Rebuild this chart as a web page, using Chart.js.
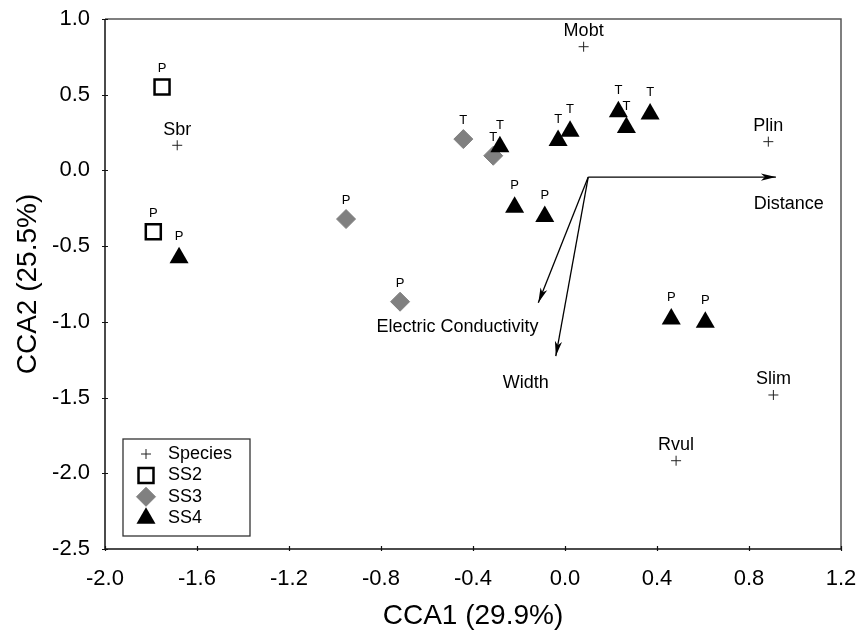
<!DOCTYPE html>
<html>
<head>
<meta charset="utf-8">
<script src="https://cdn.jsdelivr.net/npm/chart.js@4.4.1/dist/chart.umd.min.js"></script>
<style>
  html, body { margin: 0; padding: 0; background: #fff; }
</style>
</head>
<body>
<canvas id="c" width="861" height="632"></canvas>
<script>
// ---- Ordination scores (CCA axis 1 / axis 2) ----
const speciesNames = ['Mobt', 'Plin', 'Sbr', 'Slim', 'Rvul'];
const speciesX = [0.081, 0.884, -1.686, 0.906, 0.483];
const speciesY = [0.817, 0.190, 0.166, -1.483, -1.917];

const ss2X = [-1.752, -1.790];
const ss2Y = [0.551, -0.405];
const ss2Tags = ['P', 'P'];

const ss3X = [-0.442, -0.312, -0.952, -0.717];
const ss3Y = [0.207, 0.097, -0.321, -0.867];
const ss3Tags = ['T', 'T', 'P', 'P'];

const ss4X = [-1.678, -0.283, -0.030, 0.022, 0.232, 0.267, 0.370, -0.219, -0.088, 0.462, 0.610];
const ss4Y = [-0.577, 0.156, 0.197, 0.259, 0.388, 0.283, 0.373, -0.243, -0.305, -0.981, -1.003];
const ss4Tags = ['P', 'T', 'T', 'T', 'T', 'T', 'T', 'P', 'P', 'P', 'P'];

// Environmental vectors (biplot arrows)
const envNames = ['Distance', 'Electric Conductivity', 'Width'];
const envOriginX = 0.101;
const envOriginY = -0.044;
const envX = [0.917, -0.116, -0.040];
const envY = [-0.044, -0.874, -1.226];

// Axis tick values
const xTicks = [-2.0, -1.6, -1.2, -0.8, -0.4, 0.0, 0.4, 0.8, 1.2];
const yTicks = [1.0, 0.5, 0.0, -0.5, -1.0, -1.5, -2.0, -2.5];

// Where each vector's caption is centred (axis units)
const envLabelAt = [
  { x: 0.973, y: -0.222 },
  { x: -0.467, y: -1.034 },
  { x: -0.171, y: -1.407 }
];

const FONT = '"Liberation Sans", Arial, Helvetica, sans-serif';
Chart.defaults.font.family = FONT;
Chart.defaults.color = '#000';

const pts = (xs, ys) => xs.map((x, i) => ({ x: x, y: ys[i] }));

const datasets = [
  {
    label: 'SS4', order: 0, data: pts(ss4X, ss4Y), tags: ss4Tags, tagGap: 18,
    pointStyle: 'triangle', pointRadius: 11, pointBackgroundColor: '#000',
    pointBorderColor: '#000', pointBorderWidth: 0, showLine: false
  },
  {
    label: 'SS3', order: 1, data: pts(ss3X, ss3Y), tags: ss3Tags, tagGap: 14.7,
    pointStyle: 'rectRot', pointRadius: 9.5, pointBackgroundColor: '#808080',
    pointBorderColor: '#808080', pointBorderWidth: 1, showLine: false
  },
  {
    label: 'SS2', order: 2, data: pts(ss2X, ss2Y), tags: ss2Tags, tagGap: 14.6,
    pointStyle: 'rect', pointRadius: 10.6, pointBackgroundColor: '#fff',
    pointBorderColor: '#000', pointBorderWidth: 2.5, showLine: false
  },
  {
    label: 'Species', order: 3, data: pts(speciesX, speciesY), tags: speciesNames,
    tagGap: 10.5, tagSize: 18,
    pointStyle: 'cross', pointRadius: 5, pointBackgroundColor: '#222',
    pointBorderColor: '#222', pointBorderWidth: 1, showLine: false
  }
];

envNames.forEach((name, i) => {
  datasets.push({
    label: name, order: 4, arrow: true, envIndex: i,
    data: [{ x: envOriginX, y: envOriginY }, { x: envX[i], y: envY[i] }],
    showLine: true, borderColor: '#000', borderWidth: 1.3, pointRadius: 0,
    fill: false
  });
});

// Text tags above markers and arrow heads, drawn right after their own dataset
const markPlugin = {
  id: 'marks',
  afterDatasetDraw(chart, args) {
    const ds = chart.data.datasets[args.index];
    const meta = args.meta;
    const ctx = chart.ctx;
    ctx.save();
    if (ds.tags) {
      ctx.fillStyle = '#000';
      ctx.font = (ds.tagSize || 13) + 'px ' + FONT;
      ctx.textAlign = 'center';
      ctx.textBaseline = 'alphabetic';
      meta.data.forEach((el, i) => {
        ctx.fillText(ds.tags[i], el.x, el.y - ds.tagGap);
      });
    }
    if (ds.arrow) {
      const a = meta.data[0], b = meta.data[1];
      const dx = b.x - a.x, dy = b.y - a.y;
      const len = Math.hypot(dx, dy);
      const ux = dx / len, uy = dy / len;
      const nx = -uy, ny = ux;
      const L = 15, W = 3.6, notch = 4;
      ctx.fillStyle = '#000';
      ctx.beginPath();
      ctx.moveTo(b.x, b.y);
      ctx.lineTo(b.x - ux * L + nx * W, b.y - uy * L + ny * W);
      ctx.lineTo(b.x - ux * (L - notch), b.y - uy * (L - notch));
      ctx.lineTo(b.x - ux * L - nx * W, b.y - uy * L - ny * W);
      ctx.closePath();
      ctx.fill();
      const pos = envLabelAt[ds.envIndex];
      const sx = chart.scales.x, sy = chart.scales.y;
      ctx.font = '18px ' + FONT;
      ctx.textAlign = 'center';
      ctx.textBaseline = 'middle';
      ctx.fillText(ds.label, sx.getPixelForValue(pos.x), sy.getPixelForValue(pos.y));
    }
    ctx.restore();
  }
};

// Plot frame with short tick marks
const framePlugin = {
  id: 'frame',
  beforeDatasetsDraw(chart) {
    const { ctx, chartArea: ca, scales } = chart;
    ctx.save();
    ctx.lineWidth = 1.5;
    ctx.strokeStyle = '#555';
    ctx.beginPath();
    ctx.moveTo(ca.left, ca.top);
    ctx.lineTo(ca.right, ca.top);
    ctx.lineTo(ca.right, ca.bottom);
    ctx.stroke();
    ctx.strokeStyle = '#111';
    ctx.beginPath();
    ctx.moveTo(ca.left, ca.top);
    ctx.lineTo(ca.left, ca.bottom);
    ctx.lineTo(ca.right, ca.bottom);
    ctx.stroke();
    ctx.lineWidth = 1.2;
    ctx.beginPath();
    xTicks.forEach(v => {
      const px = Math.round(scales.x.getPixelForValue(v)) + 0.5;
      ctx.moveTo(px, ca.bottom - 3);
      ctx.lineTo(px, ca.bottom + 2);
    });
    yTicks.forEach(v => {
      const py = Math.round(scales.y.getPixelForValue(v)) + 0.5;
      ctx.moveTo(ca.left - 3, py);
      ctx.lineTo(ca.left + 3, py);
    });
    ctx.stroke();
    ctx.restore();
  }
};

// Boxed key in the lower-left corner of the plot
const keyPlugin = {
  id: 'key',
  afterDatasetsDraw(chart) {
    const { ctx, chartArea: ca } = chart;
    const boxX = ca.left + 18, boxY = ca.bottom - 110, boxW = 127, boxH = 97;
    ctx.save();
    ctx.fillStyle = '#fff';
    ctx.fillRect(boxX, boxY, boxW, boxH);
    ctx.strokeStyle = '#333';
    ctx.lineWidth = 1.3;
    ctx.strokeRect(boxX, boxY, boxW, boxH);
    const order = ['Species', 'SS2', 'SS3', 'SS4'];
    order.forEach((name, i) => {
      const ds = chart.data.datasets.find(d => d.label === name);
      const cy = boxY + 15 + i * 21.4;
      const cx = boxX + 23;
      const opts = {
        pointStyle: ds.pointStyle,
        radius: ds.pointRadius,
        rotation: 0,
        borderWidth: ds.pointBorderWidth
      };
      ctx.fillStyle = ds.pointBackgroundColor;
      ctx.strokeStyle = ds.pointBorderColor;
      ctx.lineWidth = ds.pointBorderWidth;
      if (Chart.helpers && Chart.helpers.drawPoint) {
        Chart.helpers.drawPoint(ctx, opts, cx, cy);
      }
      ctx.fillStyle = '#000';
      ctx.font = '18px ' + FONT;
      ctx.textAlign = 'left';
      ctx.textBaseline = 'middle';
      ctx.fillText(name, boxX + 45, cy);
    });
    ctx.restore();
  }
};

// Keep the plot box at a fixed size: no extra room reserved for edge labels
const noEdgePad = s => {
  s.paddingLeft = 0; s.paddingRight = 0; s.paddingTop = 0; s.paddingBottom = 0;
};

new Chart(document.getElementById('c'), {
  type: 'scatter',
  data: { datasets: datasets },
  options: {
    responsive: false,
    animation: false,
    events: [],
    layout: { padding: { left: 0, top: 19, right: 20, bottom: 0 } },
    plugins: { legend: { display: false }, tooltip: { enabled: false } },
    scales: {
      x: {
        type: 'linear', min: -2.0, max: 1.2,
        afterBuildTicks: s => { s.ticks = xTicks.map(v => ({ value: v })); },
        afterFit: s => { s.height = 83; noEdgePad(s); },
        grid: { display: false, drawTicks: false },
        border: { display: false },
        ticks: { font: { size: 22 }, padding: 17, maxRotation: 0, autoSkip: false,
                 callback: v => Number(v).toFixed(1) },
        title: { display: true, text: 'CCA1 (29.9%)', font: { size: 28, lineHeight: 1 },
                 padding: { top: 0, bottom: 2 } }
      },
      y: {
        type: 'linear', min: -2.5, max: 1.0,
        afterBuildTicks: s => { s.ticks = yTicks.map(v => ({ value: v })); },
        afterFit: s => { s.width = 105; noEdgePad(s); },
        grid: { display: false, drawTicks: false },
        border: { display: false },
        ticks: { font: { size: 22 }, padding: 15, autoSkip: false,
                 callback: v => Number(v).toFixed(1) },
        title: { display: true, text: 'CCA2 (25.5%)', font: { size: 28, lineHeight: 1 },
                 padding: { top: 14, bottom: 0 } }
      }
    }
  },
  plugins: [framePlugin, markPlugin, keyPlugin]
});
</script>
</body>
</html>
